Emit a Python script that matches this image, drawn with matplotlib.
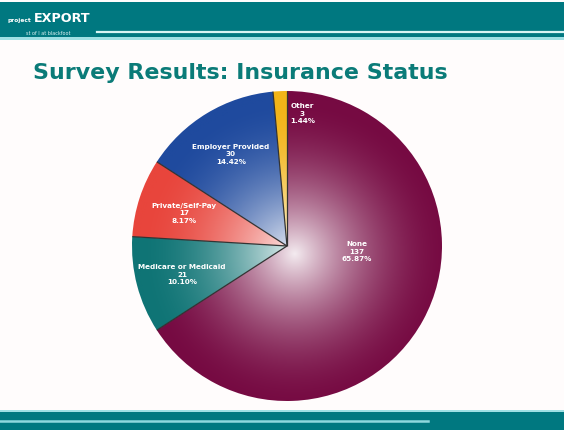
import numpy as np
import matplotlib
matplotlib.use("Agg")
import matplotlib.pyplot as plt

# Survey Daten
labels = ["Other", "Employer Provided", "Private/Self-Pay", "Medicare or Medicaid", "None"]
counts = [3, 30, 17, 21, 137]
colors = ["#f2b418", "#1f4a9e", "#e8453c", "#0f7475", "#760a42"]

title = "Survey Results: Insurance Status"
teal = "#007880"

W, H = 564, 431
fig = plt.figure(figsize=(W / 100, H / 100), dpi=100)
fig.patch.set_facecolor("#fffcfc")

# ------------------- Hintergrund (Kopf- und Fusszeile) -------------------
bg = fig.add_axes([0, 0, 1, 1])
bg.set_xlim(0, W)
bg.set_ylim(H, 0)
bg.axis("off")

bg.add_patch(plt.Rectangle((0, 3), W, 36, color=teal, lw=0))
bg.add_patch(plt.Rectangle((0, 38), W, 3, color="#9fe0e4", lw=0))
bg.plot([97, W], [33, 33], color="#d8f4f4", lw=1.6)
bg.text(8, 22, "project", color="white", fontsize=4.2, fontweight="bold", va="baseline")
bg.text(34, 22, "EXPORT", color="white", fontsize=9.2, fontweight="bold", va="baseline")
bg.text(26, 35, "st of I at blackfoot", color="#dff4f4", fontsize=3.5, va="baseline")

bg.add_patch(plt.Rectangle((0, 412), W, 19, color=teal, lw=0))
bg.add_patch(plt.Rectangle((0, 411), W, 2, color="#9fe0e4", lw=0))
bg.plot([0, 428], [422.5, 422.5], color="#8fd8de", lw=1.8)

bg.text(33, 73, title, color="#0b7b78", fontsize=15.9, fontweight="bold",
        family="DejaVu Sans", va="center", ha="left")

# ------------------- Kreisdiagramm -------------------
cx, cy, R = 287, 247, 155
ax = fig.add_axes([(cx - R) / W, (H - cy - R) / H, 2 * R / W, 2 * R / H])
total = sum(counts)
texts_lbl = [f"{n}\n{c}\n{c / total * 100:.2f}%" for n, c in zip(labels, counts)]
wedges, texts = ax.pie(counts, colors=colors, startangle=90, counterclock=True,
                       labels=texts_lbl, labeldistance=0.7,
                       wedgeprops=dict(edgecolor="none", linewidth=0),
                       textprops=dict(color="white", fontsize=5.2, fontweight="bold",
                                      ha="center", va="center", linespacing=1.3))
ax.set_xlim(-1, 1)
ax.set_ylim(-1, 1)
ax.set_aspect("equal")
ax.axis("off")

# Label-Positionen wie im Original
texts[0].set_position((0.10, 0.86))
texts[4].set_position((0.45, -0.03))

# radialer Verlauf (hell in der Mitte)
n = 400
xx, yy = np.meshgrid(np.linspace(-1, 1, n), np.linspace(-1, 1, n))
rr = np.clip(np.sqrt((xx - 0.05) ** 2 + (yy + 0.05) ** 2), 0, 1)
light = (1 - rr) ** 1.8
for w, col in zip(wedges, colors):
    base = np.array(matplotlib.colors.to_rgb(col))
    img = base[None, None, :] + (1 - base[None, None, :]) * 0.92 * light[:, :, None]
    im = ax.imshow(img, extent=(-1, 1, -1, 1), origin="lower", zorder=1)
    im.set_clip_path(w)
    w.set_facecolor("none")

# Trennlinien zwischen den Stuecken (ohne Aussenrand)
for w in wedges:
    a = np.deg2rad(w.theta1)
    ax.plot([0, np.cos(a)], [0, np.sin(a)], color="#333333", lw=0.9, zorder=2,
            solid_capstyle="butt")
for t in texts:
    t.set_zorder(3)

fig.savefig("out.png", dpi=100, facecolor=fig.get_facecolor())
